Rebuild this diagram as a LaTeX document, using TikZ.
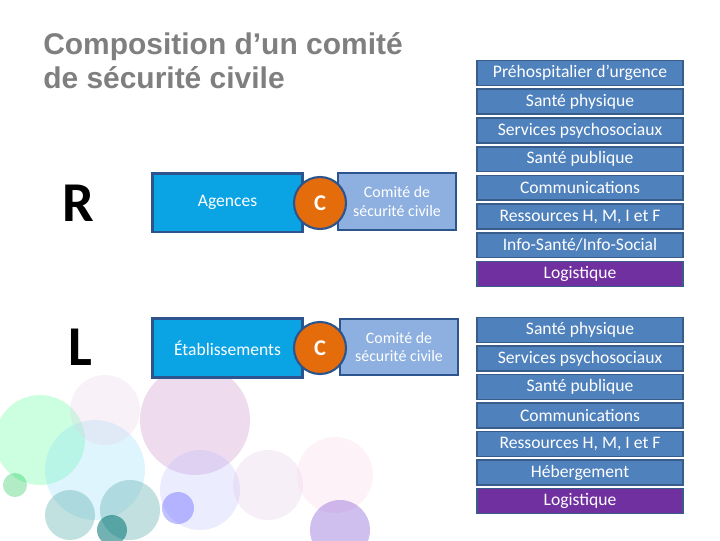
\documentclass[tikz,border=0pt]{standalone}
\usepackage{fontspec}
\setmainfont{Carlito}
\newfontfamily\titlefont{Liberation Sans}
\usepackage{xcolor}
\usetikzlibrary{positioning}

\definecolor{titlegrey}{RGB}{127,127,127}
\definecolor{rowblue}{RGB}{79,129,189}
\definecolor{rowedge}{RGB}{56,93,138}
\definecolor{rowpurple}{RGB}{112,48,160}
\definecolor{unitblue}{RGB}{10,163,228}
\definecolor{unitedge}{RGB}{46,84,142}
\definecolor{comitefill}{RGB}{141,176,224}
\definecolor{corange}{RGB}{228,108,10}

\tikzset{
  rowbox/.style={draw=rowedge, line width=1.2pt, fill=rowblue, text=white,
    minimum width=5.15cm, minimum height=0.62cm, inner sep=0pt,
    font=\fontsize{12.5}{13}\selectfont},
  logbox/.style={rowbox, fill=rowpurple},
  unitbox/.style={draw=unitedge, line width=2pt, fill=unitblue, text=white,
    minimum width=3.75cm, minimum height=1.47cm, inner sep=0pt,
    font=\fontsize{12.5}{13}\selectfont},
  comitebox/.style={draw=unitedge, line width=1.5pt, fill=comitefill, text=white,
    minimum width=2.95cm, minimum height=1.42cm, inner sep=0pt, align=center,
    font=\fontsize{11.3}{13}\selectfont},
  cdisc/.style={circle, draw=unitedge, line width=1.5pt, fill=corange, text=white,
    minimum size=1.3cm, inner sep=0pt, font=\bfseries\fontsize{16}{16}\selectfont},
  bigletter/.style={font=\bfseries\fontsize{40}{40}\selectfont}
}

\begin{document}
\begin{tikzpicture}[x=0.025cm, y=-0.025cm]
  \useasboundingbox (0,0) rectangle (720,540);

  % decorative bubbles
  \fill[green!60!cyan, opacity=0.2] (40,440) circle (45);
  \fill[cyan!50, opacity=0.25] (95,470) circle (50);
  \fill[violet!45, opacity=0.3] (195,420) circle (55);
  \fill[violet!20, opacity=0.25] (105,410) circle (35);
  \fill[blue!30, opacity=0.25] (200,490) circle (40);
  \fill[violet!25, opacity=0.25] (268,485) circle (35);
  \fill[magenta!20, opacity=0.25] (335,475) circle (38);
  \fill[teal!70, opacity=0.35] (70,515) circle (25);
  \fill[teal!60, opacity=0.4] (130,510) circle (30);
  \fill[blue!70, opacity=0.35] (178,508) circle (16);
  \fill[teal!90!black, opacity=0.55] (112,530) circle (15);
  \fill[green!50!teal, opacity=0.3] (15,485) circle (12);
  \fill[violet!50!blue, opacity=0.25] (340,530) circle (30);

  % title
  \node[anchor=base west, align=left, text=titlegrey, inner sep=0pt,
    font=\titlefont\bfseries\fontsize{21.3}{23.5}\selectfont] (titre) at (43,88)
    {Composition d’un comité\\de sécurité civile};

  % R row
  \node[bigletter] (R) at (78,203) {R};
  \node[unitbox] (agences) at (227.5,202.5) {Agences};
  \node[comitebox] (comiteR) at (397,201.5) {Comité de\\sécurité civile};
  \node[cdisc] (cR) at (320,203) {C};

  % L row
  \node[bigletter] (L) at (80,347) {L};
  \node[unitbox] (etab) at (227.5,348) {Établissements};
  \node[comitebox] (comiteL) at (399,347) {Comité de\\sécurité civile};
  \node[cdisc] (cL) at (320,348) {C};

  % missions, regional
  \foreach \lbl [count=\i] in {Préhospitalier d’urgence, Santé physique,
      Services psychosociaux, Santé publique, Communications,
      {Ressources H, M, I et F}, Info-Santé/Info-Social}{
    \node[rowbox] (r\i) at (580,{73+28.7*(\i-1)}) {\lbl};
  }
  \node[logbox] (r8) at (580,274) {Logistique};

  % missions, local
  \foreach \lbl [count=\i] in {Santé physique, Services psychosociaux,
      Santé publique, Communications, {Ressources H, M, I et F}, Hébergement}{
    \node[rowbox] (l\i) at (580,{330+28.5*(\i-1)}) {\lbl};
  }
  \node[logbox] (l7) at (580,501) {Logistique};

\end{tikzpicture}
\end{document}
